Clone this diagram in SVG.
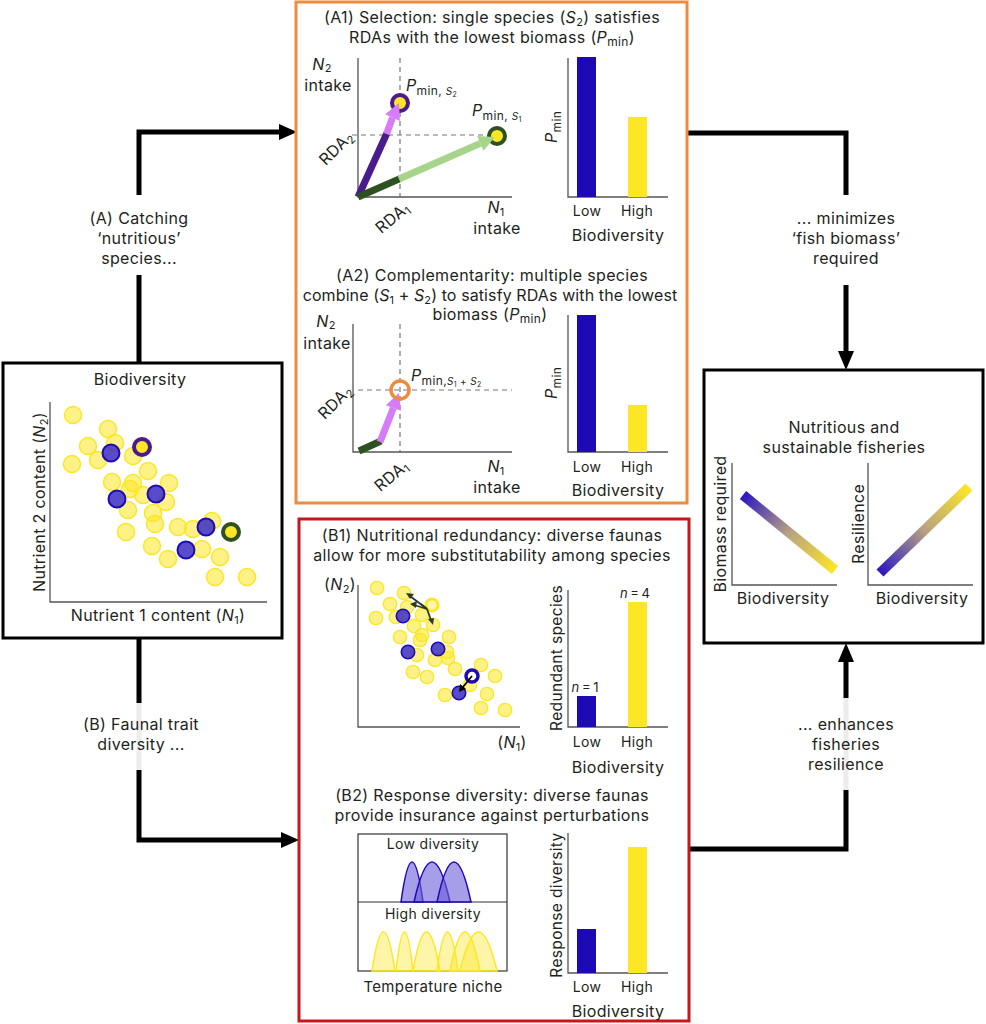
<svg xmlns="http://www.w3.org/2000/svg" width="986" height="1024" viewBox="0 0 986 1024">
<style>
text{font-family:Inter,"Open Sans","DejaVu Sans",sans-serif;font-size:16px;letter-spacing:0.35px;fill:#231f20}
.m{text-anchor:middle}
.s14{font-size:14px}
.i{font-style:italic}
.n{font-size:13px;letter-spacing:0;word-spacing:-1px}
.ax{stroke:#555;stroke-width:1.3;fill:none}
.dash{stroke:#777;stroke-width:1.2;stroke-dasharray:5 4;fill:none}
.y{fill:#fde725;fill-opacity:0.55;stroke:#fde725;stroke-width:1.5}
.b{fill:#3b2dc4;fill-opacity:0.85;stroke:#1e0ab4;stroke-width:2}
.yb{fill:#fde725;fill-opacity:0.55;stroke:#fde725;stroke-width:1.3}
.bb{fill:#3b2dc4;fill-opacity:0.85;stroke:#1e0ab4;stroke-width:1.6}
.barL{fill:#1e0ab4}
.barH{fill:#fde725}
.con{stroke:#000;stroke-width:5;fill:none}
.ghost{stroke:#ececec;stroke-width:5;fill:none}
.hb{fill:#6a5ed8;fill-opacity:0.6;stroke:#1e0ab4;stroke-width:1.5}
.hy{fill:#fde725;fill-opacity:0.4;stroke:#fde725;stroke-width:1.5}
</style>
<defs>
<linearGradient id="g1" gradientUnits="userSpaceOnUse" x1="743" y1="495" x2="835" y2="570">
<stop offset="0" stop-color="#2a17c2"/><stop offset="0.5" stop-color="#b8a282"/><stop offset="1" stop-color="#fde725"/>
</linearGradient>
<linearGradient id="g2" gradientUnits="userSpaceOnUse" x1="880" y1="573" x2="969" y2="487">
<stop offset="0" stop-color="#2a17c2"/><stop offset="0.5" stop-color="#b8a282"/><stop offset="1" stop-color="#fde725"/>
</linearGradient>
</defs>
<rect width="986" height="1024" fill="#fff"/>

<g id="connectors">
<path class="ghost" d="M139,703 V770 M846,698 V790"/>
<path class="con" d="M139,363 V275 M139,195 V132 H281"/>
<polygon points="297,132 279,124 279,140" fill="#000"/>
<path class="con" d="M686,133 H846 V195 M846,285 V352"/>
<polygon points="846,370 838,351 854,351" fill="#000"/>
<path class="con" d="M139,638 V703 M139,770 V840 H282"/>
<polygon points="299,840 281,832 281,848" fill="#000"/>
<path class="con" d="M689,849 H846 V790 M846,698 V661"/>
<polygon points="846,643 838,662 854,662" fill="#000"/>
<text class="m" x="139" y="224">(A) Catching</text>
<text class="m" x="139" y="244">‘nutritious’</text>
<text class="m" x="139" y="264">species...</text>
<text class="m" x="846" y="224">... minimizes</text>
<text class="m" x="846" y="244">‘fish biomass’</text>
<text class="m" x="846" y="264">required</text>
<text class="m" x="141" y="730">(B) Faunal trait</text>
<text class="m" x="141" y="750">diversity ...</text>
<text class="m" x="846" y="730">... enhances</text>
<text class="m" x="846" y="750">fisheries</text>
<text class="m" x="846" y="770">resilience</text>
</g>

<g id="biodiversity-box">
<rect x="3" y="363" width="279" height="275" fill="none" stroke="#000" stroke-width="3"/>
<text class="m" x="140" y="385">Biodiversity</text>
<path class="ax" d="M50,402 V602 H267"/>
<text class="m" transform="translate(45,502) rotate(-90)">Nutrient 2 content (<tspan class="i">N</tspan><tspan font-size="11" dy="3">2</tspan><tspan dy="-3">)</tspan></text>
<text class="m" x="158" y="621">Nutrient 1 content (<tspan class="i">N</tspan><tspan font-size="11" dy="3">1</tspan><tspan dy="-3">)</tspan></text>
<g>
<circle class="y" cx="73" cy="415" r="8.5"/>
<circle class="y" cx="108" cy="429" r="8.5"/>
<circle class="y" cx="115" cy="443" r="8.5"/>
<circle class="y" cx="88" cy="446" r="8.5"/>
<circle class="y" cx="98" cy="460" r="8.5"/>
<circle class="y" cx="72" cy="464" r="8.5"/>
<circle class="y" cx="133" cy="456" r="8.5"/>
<circle class="y" cx="148" cy="471" r="8.5"/>
<circle class="y" cx="112" cy="482" r="8.5"/>
<circle class="y" cx="133" cy="483" r="8.5"/>
<circle class="y" cx="130" cy="489" r="8.5"/>
<circle class="y" cx="143" cy="495" r="8.5"/>
<circle class="y" cx="169" cy="483" r="8.5"/>
<circle class="y" cx="166" cy="502" r="8.5"/>
<circle class="y" cx="128" cy="510" r="8.5"/>
<circle class="y" cx="153" cy="513" r="8.5"/>
<circle class="y" cx="155" cy="524" r="8.5"/>
<circle class="y" cx="126" cy="532" r="8.5"/>
<circle class="y" cx="178" cy="527" r="8.5"/>
<circle class="y" cx="193" cy="529" r="8.5"/>
<circle class="y" cx="212" cy="521" r="8.5"/>
<circle class="y" cx="152" cy="546" r="8.5"/>
<circle class="y" cx="202" cy="549" r="8.5"/>
<circle class="y" cx="168" cy="559" r="8.5"/>
<circle class="y" cx="220" cy="557" r="8.5"/>
<circle class="y" cx="215" cy="577" r="8.5"/>
<circle class="y" cx="247" cy="577" r="8.5"/>
<circle class="b" cx="111" cy="453" r="8.5"/>
<circle class="b" cx="117" cy="499" r="8.5"/>
<circle class="b" cx="156" cy="494" r="8.5"/>
<circle class="b" cx="206" cy="527" r="8.5"/>
<circle class="b" cx="186" cy="550" r="8.5"/>
<circle cx="142" cy="447" r="8" fill="#fde725" stroke="#4b1a8c" stroke-width="4"/>
<circle cx="231" cy="532" r="8" fill="#fde725" stroke="#2f5020" stroke-width="4"/>
</g>
</g>

<g id="panel-A">
<rect x="296" y="2" width="391" height="501" fill="none" stroke="#f08a3c" stroke-width="3"/>
<!-- A1 -->
<text class="m" x="492" y="23">(A1) Selection: single species (<tspan class="i">S</tspan><tspan font-size="11" dy="3">2</tspan><tspan dy="-3">) satisfies</tspan></text>
<text class="m" x="492" y="43">RDAs with the lowest biomass (<tspan class="i">P</tspan><tspan font-size="12" dy="3">min</tspan><tspan dy="-3">)</tspan></text>
<path class="dash" d="M400,58 V197 M352,135 H497"/>
<path class="ax" d="M358,58 V197 H512"/>
<text class="m" x="322" y="70"><tspan class="i">N</tspan><tspan font-size="11" dy="2">2</tspan></text>
<text class="m" x="328" y="91">intake</text>
<text class="m" transform="translate(340,152) rotate(-45)">RDA<tspan font-size="11" dy="3">2</tspan></text>
<text class="m" transform="translate(396,222) rotate(-40)">RDA<tspan font-size="11" dy="3">1</tspan></text>
<text class="m" x="496" y="213"><tspan class="i">N</tspan><tspan font-size="11" dy="3">1</tspan></text>
<text class="m" x="497" y="234">intake</text>
<circle cx="400" cy="103" r="8" fill="#fde725" stroke="#4b1a8c" stroke-width="4"/>
<circle cx="497" cy="136" r="8" fill="#fde725" stroke="#2f5020" stroke-width="4"/>
<line x1="358" y1="197" x2="387" y2="133" stroke="#4b1a8c" stroke-width="7"/>
<line x1="386.5" y1="134" x2="392.5" y2="117.6" stroke="#d67cf7" stroke-width="7"/>
<polygon points="399,103 399.8,120.9 385.2,114.3" fill="#d67cf7"/>
<line x1="358" y1="197" x2="400" y2="178.6" stroke="#2f5020" stroke-width="7"/>
<line x1="399" y1="179" x2="480.3" y2="143.4" stroke="#a6d48a" stroke-width="7"/>
<polygon points="495,137 483.5,150.7 477.1,136.1" fill="#a6d48a"/>
<text x="406" y="91"><tspan class="i">P</tspan><tspan font-size="12" dy="4">min, </tspan><tspan font-size="10" class="i">S</tspan><tspan font-size="7" dy="2">2</tspan></text>
<text x="472" y="116"><tspan class="i">P</tspan><tspan font-size="12" dy="4">min, </tspan><tspan font-size="10" class="i">S</tspan><tspan font-size="7" dy="2">1</tspan></text>
<path class="ax" d="M568,58 V197 H668"/>
<rect class="barL" x="577" y="57" width="19" height="140"/>
<rect class="barH" x="628" y="117" width="19" height="80"/>
<text class="m" transform="translate(557,127) rotate(-90)"><tspan class="i">P</tspan><tspan font-size="12" dy="4">min</tspan></text>
<text class="m s14" x="587" y="216">Low</text>
<text class="m s14" x="637" y="216">High</text>
<text class="m" x="618" y="241">Biodiversity</text>
<!-- A2 -->
<text class="m" x="492" y="281">(A2) Complementarity: multiple species</text>
<text class="m" x="490" y="301" style="letter-spacing:0.1px">combine (<tspan class="i">S</tspan><tspan font-size="11" dy="3">1</tspan><tspan dy="-3"> + </tspan><tspan class="i">S</tspan><tspan font-size="11" dy="3">2</tspan><tspan dy="-3">) to satisfy RDAs with the lowest</tspan></text>
<text class="m" x="490" y="320">biomass (<tspan class="i">P</tspan><tspan font-size="12" dy="3">min</tspan><tspan dy="-3">)</tspan></text>
<path class="dash" d="M400,324 V452 M358,390 H512"/>
<path class="ax" d="M353,324 V452 H512"/>
<text class="m" x="326" y="327"><tspan class="i">N</tspan><tspan font-size="11" dy="2">2</tspan></text>
<text class="m" x="327" y="349">intake</text>
<text class="m" transform="translate(339,406) rotate(-45)">RDA<tspan font-size="11" dy="3">2</tspan></text>
<text class="m" transform="translate(395,480) rotate(-40)">RDA<tspan font-size="11" dy="3">1</tspan></text>
<text class="m" x="496" y="472"><tspan class="i">N</tspan><tspan font-size="11" dy="3">1</tspan></text>
<text class="m" x="497" y="493">intake</text>
<line x1="359" y1="451" x2="381" y2="441" stroke="#2f5020" stroke-width="7"/>
<line x1="380" y1="442" x2="393.4" y2="408" stroke="#d67cf7" stroke-width="7"/>
<polygon points="399,393 400.9,410.8 385.9,405.2" fill="#d67cf7"/>
<circle cx="400" cy="390" r="9" fill="none" stroke="#f08a3c" stroke-width="3.5"/>
<text x="411" y="381"><tspan class="i">P</tspan><tspan font-size="12" dy="4">min,</tspan><tspan font-size="10" class="i">S</tspan><tspan font-size="7" dy="2">1</tspan><tspan font-size="10" dy="-2"> + </tspan><tspan font-size="10" class="i">S</tspan><tspan font-size="7" dy="2">2</tspan></text>
<path class="ax" d="M568,315 V452 H668"/>
<rect class="barL" x="577" y="315" width="19" height="137"/>
<rect class="barH" x="628" y="405" width="19" height="47"/>
<text class="m" transform="translate(557,383) rotate(-90)"><tspan class="i">P</tspan><tspan font-size="12" dy="4">min</tspan></text>
<text class="m s14" x="587" y="472">Low</text>
<text class="m s14" x="637" y="472">High</text>
<text class="m" x="618" y="496">Biodiversity</text>
</g>

<g id="panel-B">
<rect x="299" y="519" width="390" height="502" fill="none" stroke="#c8161d" stroke-width="3"/>
<!-- B1 -->
<text class="m" x="492" y="541">(B1) Nutritional redundancy: diverse faunas</text>
<text class="m" x="492" y="561">allow for more substitutability among species</text>
<path class="ax" d="M358,585 V727 H520"/>
<text class="m" x="340" y="590">(<tspan class="i">N</tspan><tspan font-size="11" dy="3">2</tspan><tspan dy="-3">)</tspan></text>
<text class="m" x="512" y="748">(<tspan class="i">N</tspan><tspan font-size="11" dy="3">1</tspan><tspan dy="-3">)</tspan></text>
<g>
<circle class="yb" cx="377" cy="588" r="6.7"/>
<circle class="yb" cx="404" cy="593" r="6.7"/>
<circle class="yb" cx="390" cy="604" r="6.7"/>
<circle class="yb" cx="407" cy="607" r="6.7"/>
<circle class="yb" cx="376" cy="618" r="6.7"/>
<circle class="yb" cx="396" cy="617" r="6.7"/>
<circle class="yb" cx="422" cy="615" r="6.7"/>
<circle class="yb" cx="433" cy="625" r="6.7"/>
<circle class="yb" cx="414" cy="626" r="6.7"/>
<circle class="yb" cx="400" cy="637" r="6.7"/>
<circle class="yb" cx="422" cy="635" r="6.7"/>
<circle class="yb" cx="420" cy="640" r="6.7"/>
<circle class="yb" cx="449" cy="637" r="6.7"/>
<circle class="yb" cx="447" cy="652" r="6.7"/>
<circle class="yb" cx="417" cy="655" r="6.7"/>
<circle class="yb" cx="435" cy="660" r="6.7"/>
<circle class="yb" cx="448" cy="658" r="6.7"/>
<circle class="yb" cx="413" cy="672" r="6.7"/>
<circle class="yb" cx="427" cy="677" r="6.7"/>
<circle class="yb" cx="455" cy="669" r="6.7"/>
<circle class="yb" cx="481" cy="665" r="6.7"/>
<circle class="yb" cx="495" cy="676" r="6.7"/>
<circle class="yb" cx="470" cy="685" r="6.7"/>
<circle class="yb" cx="445" cy="695" r="6.7"/>
<circle class="yb" cx="487" cy="694" r="6.7"/>
<circle class="yb" cx="481" cy="708" r="6.7"/>
<circle class="yb" cx="505" cy="710" r="6.7"/>
<circle cx="432" cy="605" r="6" fill="#fff7b0" stroke="#fde725" stroke-width="3"/>
<circle class="bb" cx="403" cy="616" r="6.7"/>
<circle class="bb" cx="408" cy="652" r="6.7"/>
<circle class="bb" cx="438" cy="649" r="6.7"/>
<circle class="bb" cx="459" cy="693" r="6.7"/>
<circle cx="472" cy="676" r="6" fill="#fff" stroke="#1e0ab4" stroke-width="3.5"/>
</g>
<g stroke="#2b3a22" stroke-width="1.8" fill="#2b3a22">
<line x1="427" y1="609" x2="410" y2="596"/>
<polygon points="406,593 414,594 410,599" stroke="none"/>
<line x1="427" y1="609" x2="414" y2="605"/>
<polygon points="410,604 417,601 416,608" stroke="none"/>
<line x1="427" y1="609" x2="431" y2="620"/>
<polygon points="433,625 428,619 434,618" stroke="none"/>
<line x1="427" y1="609" x2="421" y2="604"/>
</g>
<g stroke="#000" stroke-width="1.8" fill="#000">
<line x1="472" y1="676" x2="463" y2="687"/>
<polygon points="459,692 460,684 466,689" stroke="none"/>
</g>
<path class="ax" d="M568,590 V727 H668"/>
<rect class="barL" x="577" y="696" width="19" height="31"/>
<rect class="barH" x="628" y="602" width="19" height="125"/>
<text class="m n" x="585" y="692"><tspan class="i">n</tspan> = 1</text>
<text class="m n" x="635" y="598"><tspan class="i">n</tspan> = 4</text>
<text class="m" transform="translate(562,658) rotate(-90)" style="font-size:15.5px">Redundant species</text>
<text class="m s14" x="587" y="747">Low</text>
<text class="m s14" x="637" y="747">High</text>
<text class="m" x="618" y="773">Biodiversity</text>
<!-- B2 -->
<text class="m" x="492" y="801">(B2) Response diversity: diverse faunas</text>
<text class="m" x="492" y="821">provide insurance against perturbations</text>
<rect x="358" y="834" width="149" height="137" fill="none" stroke="#333" stroke-width="1.2"/>
<line x1="358" y1="902" x2="507" y2="902" stroke="#333" stroke-width="1.2"/>
<text class="m s14" x="433" y="849">Low diversity</text>
<text class="m s14" x="433" y="919">High diversity</text>
<path class="hb" d="M401,902 Q412,822 423,902 Z"/>
<path class="hb" d="M414,902 Q432,822 450,902 Z"/>
<path class="hb" d="M437,902 Q454,822 471,902 Z"/>
<path class="hy" d="M372,971 Q383.5,893 395,971 Z"/>
<path class="hy" d="M396,971 Q404.5,893 413,971 Z"/>
<path class="hy" d="M413,971 Q426.5,893 440,971 Z"/>
<path class="hy" d="M437,971 Q447.5,893 458,971 Z"/>
<path class="hy" d="M450,971 Q465,893 480,971 Z"/>
<path class="hy" d="M460,971 Q478.5,893 497,971 Z"/>
<text class="m" x="433" y="992" style="font-size:15px">Temperature niche</text>
<path class="ax" d="M568,833 V973 H668"/>
<rect class="barL" x="577" y="929" width="19" height="44"/>
<rect class="barH" x="628" y="847" width="19" height="126"/>
<text class="m" transform="translate(562,905) rotate(-90)" style="font-size:15.5px">Response diversity</text>
<text class="m s14" x="587" y="992">Low</text>
<text class="m s14" x="637" y="992">High</text>
<text class="m" x="618" y="1017">Biodiversity</text>
</g>

<g id="outcome-box">
<rect x="704" y="370" width="279" height="273" fill="none" stroke="#000" stroke-width="3"/>
<text class="m" x="844" y="433">Nutritious and</text>
<text class="m" x="844" y="453">sustainable fisheries</text>
<path class="ax" d="M732,463 V585 H837"/>
<path class="ax" d="M868,463 V585 H973"/>
<line x1="743" y1="495" x2="835" y2="570" stroke="url(#g1)" stroke-width="10"/>
<line x1="880" y1="573" x2="969" y2="487" stroke="url(#g2)" stroke-width="10"/>
<text class="m" transform="translate(726,524) rotate(-90)">Biomass required</text>
<text class="m" transform="translate(864,524) rotate(-90)">Resilience</text>
<text class="m" x="783" y="604">Biodiversity</text>
<text class="m" x="922" y="604">Biodiversity</text>
</g>
</svg>
